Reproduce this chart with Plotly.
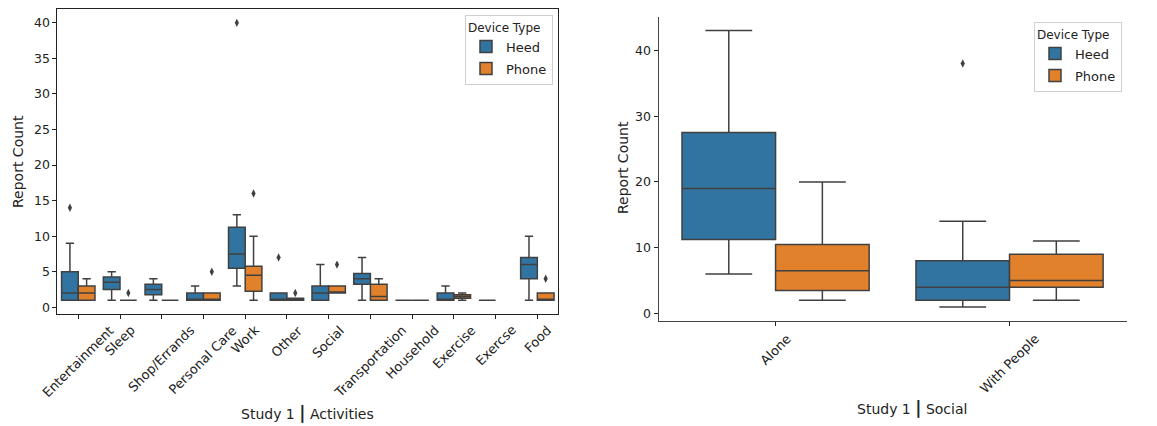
import plotly.graph_objects as go

# ---------------- data ----------------
activities = ["Entertainment", "Sleep", "Shop/Errands", "Personal Care", "Work", "Other",
              "Social", "Transportation", "Household", "Exercise", "Exercse", "Food"]

heed_act_q1 = [1, 2.5, 1.75, 1, 5.5, 1, 1, 3.25, 1, 1, 1, 4]
heed_act_med = [2, 3.5, 2.5, 1, 7.5, 1, 2, 4, 1, 1, 1, 6]
heed_act_q3 = [5, 4.25, 3.25, 2, 11.25, 2, 3, 4.75, 1, 2, 1, 7]
heed_act_lo = [1, 1, 1, 1, 3, 1, 1, 1, 1, 1, 1, 1]
heed_act_hi = [9, 5, 4, 3, 13, 2, 6, 7, 1, 3, 1, 10]

phone_activities = ["Entertainment", "Sleep", "Shop/Errands", "Personal Care", "Work", "Other",
                    "Social", "Transportation", "Household", "Exercise", "Food"]
phone_act_q1 = [1, 1, 1, 1, 2.25, 1, 2, 1, 1, 1.25, 1]
phone_act_med = [2, 1, 1, 1, 4.5, 1, 2, 1.5, 1, 1.5, 1]
phone_act_q3 = [3, 1, 1, 2, 5.75, 1.25, 3, 3.25, 1, 1.75, 2]
phone_act_lo = [1, 1, 1, 1, 1, 1, 2, 1, 1, 1, 1]
phone_act_hi = [4, 1, 1, 2, 10, 1.25, 3, 4, 1, 2, 2]

heed_act_out_x = ["Entertainment", "Work", "Other"]
heed_act_out_y = [14, 40, 7]
phone_act_out_x = ["Sleep", "Personal Care", "Work", "Other", "Social", "Food"]
phone_act_out_y = [2, 5, 16, 2, 6, 4]

social = ["Alone", "With People"]
heed_soc_q1 = [11.25, 2]
heed_soc_med = [19, 4]
heed_soc_q3 = [27.5, 8]
heed_soc_lo = [6, 1]
heed_soc_hi = [43, 14]
phone_soc_q1 = [3.5, 4]
phone_soc_med = [6.5, 5]
phone_soc_q3 = [10.5, 9]
phone_soc_lo = [2, 2]
phone_soc_hi = [20, 11]
heed_soc_out_x = ["With People"]
heed_soc_out_y = [38]
phone_soc_out_x = []
phone_soc_out_y = []

# ---------------- style ----------------
HEED = "#3274a1"
PHONE = "#e1812c"
EDGE = "#404040"
FONT = "DejaVu Sans"
TXT = "#222222"
OFF = 8                      # page body margin of the browser
W, H = 1157 - OFF, 426 - OFF


def fx(p):
    return (p - OFF) / W


def fy(p):
    return 1 - (p - OFF) / H


fig = go.Figure()


def add_box(name, color, x, q1, med, q3, lo, hi, xa, ya, legend, show):
    fig.add_trace(go.Box(
        name=name, x=x, q1=q1, median=med, q3=q3, lowerfence=lo, upperfence=hi,
        xaxis=xa, yaxis=ya, legend=legend, showlegend=show, legendgroup=name + legend,
        fillcolor=color, line=dict(color=EDGE, width=1.5), whiskerwidth=0.5,
        boxpoints=False, offsetgroup=name, hoverinfo="skip"))


def add_out(name, x, y, xa, ya):
    fig.add_trace(go.Scatter(
        name=name, x=x, y=y, mode="markers", xaxis=xa, yaxis=ya, showlegend=False,
        offsetgroup=name, orientation="v",
        marker=dict(symbol="diamond-tall", size=6, color=EDGE), hoverinfo="skip"))


add_box("Heed", HEED, activities, heed_act_q1, heed_act_med, heed_act_q3,
        heed_act_lo, heed_act_hi, "x", "y", "legend", True)
add_box("Phone", PHONE, phone_activities, phone_act_q1, phone_act_med, phone_act_q3,
        phone_act_lo, phone_act_hi, "x", "y", "legend", True)
add_out("Heed", heed_act_out_x, heed_act_out_y, "x", "y")
add_out("Phone", phone_act_out_x, phone_act_out_y, "x", "y")

add_box("Heed", HEED, social, heed_soc_q1, heed_soc_med, heed_soc_q3,
        heed_soc_lo, heed_soc_hi, "x2", "y2", "legend2", True)
add_box("Phone", PHONE, social, phone_soc_q1, phone_soc_med, phone_soc_q3,
        phone_soc_lo, phone_soc_hi, "x2", "y2", "legend2", True)
add_out("Heed", heed_soc_out_x, heed_soc_out_y, "x2", "y2")
add_out("Phone", phone_soc_out_x, phone_soc_out_y, "x2", "y2")

# domains (pixel boxes of the reference axes)
xd1 = [fx(57.4), fx(558.2)]
yd1 = [fy(314), fy(9)]
xd2 = [fx(658.6), fx(1126.5)]
yd2 = [fy(320.7), fy(16.8)]

tickfont = dict(family=FONT, size=12.5, color=TXT)
xtickfont = dict(family=FONT, size=13, color=TXT)
common_x = dict(type="category", showticklabels=False, ticks="outside", ticklen=4,
                tickcolor=TXT, showgrid=False, zeroline=False, automargin=False)
common_y = dict(ticks="outside", ticklen=4, tickcolor=TXT, showgrid=False, zeroline=False,
                tickfont=tickfont, automargin=False)

annotations = []
for c in activities:
    annotations.append(dict(text=c, x=c, xref="x", y=fy(320), yref="paper",
                            textangle=-45, xanchor="center", yanchor="top", showarrow=False,
                            font=xtickfont))
for c in social:
    annotations.append(dict(text=c, x=c, xref="x2", y=fy(328), yref="paper",
                            textangle=-45, xanchor="center", yanchor="top", showarrow=False,
                            font=xtickfont))
labfont = dict(family=FONT, size=14, color=TXT)
bar = "<span style='font-size:17px'><b>|</b></span>"
annotations += [
    dict(text="Study 1 " + bar + " Activities", x=fx(307), y=fy(413), xref="paper",
         yref="paper", showarrow=False, xanchor="center", yanchor="middle", font=labfont),
    dict(text="Study 1 " + bar + " Social", x=fx(912), y=fy(408), xref="paper",
         yref="paper", showarrow=False, xanchor="center", yanchor="middle", font=labfont),
    dict(text="Report Count", x=fx(18), y=fy(162), xref="paper", yref="paper",
         textangle=-90, showarrow=False, xanchor="center", yanchor="middle", font=labfont),
    dict(text="Report Count", x=fx(623), y=fy(168), xref="paper", yref="paper",
         textangle=-90, showarrow=False, xanchor="center", yanchor="middle", font=labfont),
]

legstyle = dict(bgcolor="rgba(255,255,255,0.9)", bordercolor="#d0d0d0", borderwidth=1,
                font=dict(family=FONT, size=13, color=TXT),
                title=dict(text="Device Type", font=dict(family=FONT, size=12, color=TXT)),
                xanchor="right", yanchor="top", tracegroupgap=2)

fig.update_layout(
    width=W, height=H, margin=dict(l=0, r=0, t=0, b=0),
    paper_bgcolor="white", plot_bgcolor="white",
    boxmode="group", boxgap=0.2, boxgroupgap=0,
    scattermode="group", scattergap=0.2,
    font=dict(family=FONT, color=TXT),
    xaxis=dict(domain=xd1, anchor="y", range=[-0.5, 11.5], categoryorder="array",
               categoryarray=activities, showline=True, linecolor="#222", linewidth=1,
               mirror=True, **common_x),
    yaxis=dict(domain=yd1, anchor="x", range=[-0.95, 41.95], dtick=5, showline=True,
               linecolor="#222", linewidth=1, mirror=True, **common_y),
    xaxis2=dict(domain=xd2, anchor="y2", range=[-0.5, 1.5], categoryorder="array",
                categoryarray=social, showline=True, linecolor="#444", linewidth=1.2,
                **common_x),
    yaxis2=dict(domain=yd2, anchor="x2", range=[-1.1, 45.1], dtick=10, showline=True,
                linecolor="#444", linewidth=1.2, **common_y),
    legend=dict(x=fx(553), y=fy(15), **legstyle),
    legend2=dict(x=fx(1122), y=fy(22), **legstyle),
    annotations=annotations,
)

fig.write_html("out.html")
